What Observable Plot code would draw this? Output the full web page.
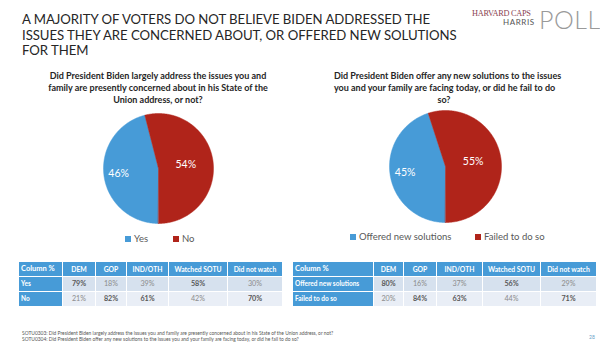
<!DOCTYPE html>
<html><head><meta charset="utf-8">
<script src="https://cdn.jsdelivr.net/npm/d3@7"></script>
<script src="https://cdn.jsdelivr.net/npm/@observablehq/plot@0.6"></script>
<style>
body{margin:0;background:#fff;}
#page{position:relative;width:600px;height:344px;overflow:hidden;font-family:Lato,"Open Sans",sans-serif;background:#fff;}
.abs{position:absolute;}
.tl{font-size:13.2px;line-height:15.5px;color:#262626;white-space:nowrap;letter-spacing:-0.05px;}
.q{font-weight:bold;font-size:9px;line-height:12px;color:#262626;text-align:center;white-space:nowrap;}
.leg{font-size:9.5px;color:#595959;white-space:nowrap;display:flex;align-items:center;}
.sw{display:inline-block;width:6px;height:6px;margin-right:3px;}
table{border-collapse:collapse;table-layout:fixed;}
td{border:1px solid #fff;height:14px;line-height:14px;padding:0;text-align:center;font-size:7.2px;color:#8c8c8c;white-space:nowrap;overflow:hidden;}
td.h{background:#479bd7;color:#fff;font-weight:bold;font-size:6.8px;}
td.rh{background:#479bd7;color:#fff;font-weight:bold;font-size:6.5px;text-align:left;padding-left:2px;}
tr.r1 td{background:#d6e1ee;}
tr.r2 td{background:#e9eef6;}
tr.r1 td.rh, tr.r2 td.rh{background:#479bd7;}
td.b{font-weight:bold;color:#595959;}
.ft{font-size:4.9px;line-height:6px;color:#555;white-space:nowrap;}
</style></head>
<body><div id="page"></div>
<script>
// ---- data ----
const titleLines = ["A MAJORITY OF VOTERS DO NOT BELIEVE BIDEN ADDRESSED THE",
  "ISSUES THEY ARE CONCERNED ABOUT, OR OFFERED NEW SOLUTIONS", "FOR THEM"];
const q1Lines = ["Did President Biden largely address the issues you and",
  "family are presently concerned about in his State of the", "Union address, or not?"];
const q2Lines = ["Did President Biden offer any new solutions to the issues",
  "you and your family are facing today, or did he fail to do", "so?"];
const pie1Labels = ["Yes", "No"];
const pie1Values = [46, 54];
const pie2Labels = ["Offered new solutions", "Failed to do so"];
const pie2Values = [45, 55];
const tableCols = ["DEM", "GOP", "IND/OTH", "Watched SOTU", "Did not watch"];
const t1Yes = [79, 18, 39, 58, 30];
const t1No = [21, 82, 61, 42, 70];
const t2Offered = [80, 16, 37, 56, 29];
const t2Failed = [20, 84, 63, 44, 71];
const footLines = ["SOTU0303: Did President Biden largely address the issues you and family are presently concerned about in his State of the Union address, or not?",
  "SOTU0304: Did President Biden offer any new solutions to the issues you and your family are facing today, or did he fail to do so?"];
const pageNum = "28";
const colors = ["#479bd7", "#b0241a"];

const page = document.getElementById("page");
function add(html, cls, style){const d=document.createElement("div");d.className="abs "+(cls||"");d.style.cssText=style||"";d.innerHTML=html;page.appendChild(d);return d;}

titleLines.forEach((l, i) => add(l, "tl", `left:22px;top:${12 + i * 15.5}px;`));
// logo
add("HARVARD CAPS", "", "left:472px;top:9px;font-family:'Liberation Serif',serif;font-size:8.3px;color:#8a3f52;letter-spacing:-0.3px;");
add("HARRIS", "", "left:503px;top:17px;font-family:Lato,sans-serif;font-size:8px;color:#555;letter-spacing:0.6px;");
add("POLL", "", "left:539px;top:4px;font-family:Lato,sans-serif;font-weight:300;font-size:25px;color:#9a9a9a;letter-spacing:0.5px;");

q1Lines.forEach((l, i) => add(l, "q", `left:48px;width:220px;top:${70 + i * 12}px;`));
q2Lines.forEach((l, i) => add(l, "q", `left:334px;width:220px;top:${70 + i * 12}px;`));

function pie(labels, values, cx, cy, r){
  const S = 140, ext = S/2/r;
  const arcs = d3.pie().sort(null).startAngle(Math.PI).endAngle(3*Math.PI)(values);
  const pts = [], lab = [];
  const frac = [0.73, 0.5];
  arcs.forEach((a, i) => {
    pts.push({k: labels[i], x: 0, y: 0});
    const n = Math.ceil((a.endAngle - a.startAngle) / 0.01);
    for (let j = 0; j <= n; j++) {
      const ang = a.startAngle + (a.endAngle - a.startAngle) * j / n;
      pts.push({k: labels[i], x: Math.sin(ang), y: Math.cos(ang)});
    }
    const m = (a.startAngle + a.endAngle) / 2;
    lab.push({x: Math.sin(m) * frac[i], y: Math.cos(m) * frac[i], t: values[i] + "%"});
  });
  const p = Plot.plot({
    width: S, height: S, margin: 0,
    x: {domain: [-ext, ext], axis: null},
    y: {domain: [-ext, ext], axis: null},
    color: {domain: labels, range: colors},
    style: {background: "transparent"},
    marks: [
      Plot.line(pts, {x: "x", y: "y", z: "k", fill: "k", stroke: "k", strokeWidth: 0.5, curve: "linear-closed"}),
      Plot.text(lab, {x: "x", y: "y", text: "t", fill: "white", fontSize: 10.5, fontFamily: "Lato"})
    ]
  });
  const w = add("", "", `left:${cx - S/2}px;top:${cy - S/2}px;`);
  w.appendChild(p);
}
pie(pie1Labels, pie1Values, 158, 168, 55);
pie(pie2Labels, pie2Values, 445, 166, 56);

function legend(labels, xs, y){
  labels.forEach((l, i) => add(`<span class="sw" style="background:${colors[i]}"></span>${l}`, "leg", `left:${xs[i]}px;top:${y}px;`));
}
legend(pie1Labels, [125, 173], 233);
legend(pie2Labels, [350, 475], 231);

function table(left, widths, rows, totals, rowLabels){
  let h = `<table style="width:${d3.sum(widths)}px"><colgroup>${widths.map(w=>`<col style="width:${w}px">`).join("")}</colgroup>`;
  h += `<tr><td class="rh" style="font-size:7.5px">Column %</td>${tableCols.map(c=>`<td class="h">${c}</td>`).join("")}</tr>`;
  rows.forEach((r, i) => {
    h += `<tr class="r${i+1}"><td class="rh">${rowLabels[i]}</td>${r.map(v=>`<td class="${v > totals[i] ? "b" : ""}">${v}%</td>`).join("")}</tr>`;
  });
  h += "</table>";
  add(h, "", `left:${left}px;top:261px;`);
}
table(18, [44, 33, 31, 42, 59, 55], [t1Yes, t1No], pie1Values, pie1Labels);
table(292, [81, 30, 33, 46, 58, 56], [t2Offered, t2Failed], pie2Values, pie2Labels);

footLines.forEach((l, i) => add(l, "ft", `left:22px;top:${330 + i * 6}px;`));
add(pageNum, "", "left:589px;top:334px;font-size:5px;color:#6a9fc8;");
</script></body></html>
